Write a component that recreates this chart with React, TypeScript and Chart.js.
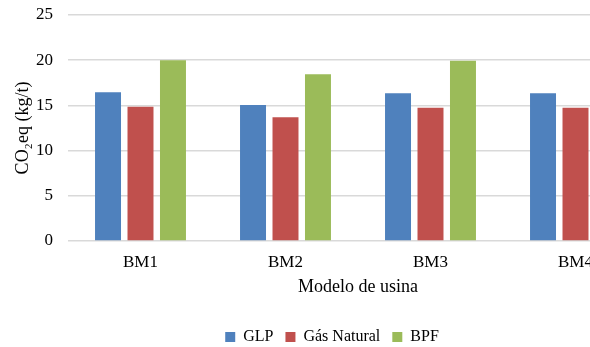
import React, { useEffect, useRef } from "react";
import { Chart, registerables } from "chart.js";

Chart.register(...registerables);

// Emission results per plant model (kg CO2eq per tonne)
const categories = ["BM1", "BM2", "BM3", "BM4"];
const glp = [16.45, 15.05, 16.35, 16.35];
const gasNatural = [14.85, 13.7, 14.75, 14.75];
const bpf: (number | null)[] = [20.0, 18.45, 19.95, null];
const yMin = 0;
const yMax = 25;
const yStep = 5;

const seriesNames = ["GLP", "Gás Natural", "BPF"];
const seriesColors = ["#4F81BD", "#C0504D", "#9BBB59"];

const serif = "'Liberation Serif', 'Times New Roman', serif";

export default function App() {
  const canvasRef = useRef<HTMLCanvasElement>(null);

  useEffect(() => {
    if (!canvasRef.current) return;
    const chart = new Chart(canvasRef.current, {
      type: "bar",
      data: {
        labels: categories,
        datasets: [glp, gasNatural, bpf].map((values, i) => ({
          label: seriesNames[i],
          data: values,
          backgroundColor: seriesColors[i],
          borderWidth: 0,
          categoryPercentage: 0.672,
          barPercentage: 0.8,
        })),
      },
      options: {
        animation: false,
        responsive: true,
        maintainAspectRatio: false,
        layout: { padding: { top: 15, right: 16, left: 16, bottom: 0 } },
        plugins: {
          tooltip: { enabled: false },
          legend: {
            position: "bottom",
            labels: {
              boxWidth: 10,
              boxHeight: 10,
              padding: 12,
              color: "#000",
              font: { family: serif, size: 16 },
            },
          },
        },
        scales: {
          x: {
            grid: { display: false, drawTicks: false },
            border: { display: false },
            ticks: {
              color: "#000",
              padding: 11,
              font: { family: serif, size: 17 },
            },
            title: {
              display: true,
              text: "Modelo de usina",
              color: "#000",
              font: { family: serif, size: 18 },
              padding: { top: -7, bottom: 19 },
            },
          },
          y: {
            min: yMin,
            max: yMax,
            ticks: {
              stepSize: yStep,
              color: "#000",
              padding: 15,
              font: { family: serif, size: 17 },
            },
            grid: { color: "#D9D9D9", lineWidth: 1.5, drawTicks: false },
            border: { display: false },
            title: {
              display: true,
              text: "CO₂eq (kg/t)",
              color: "#000",
              font: { family: serif, size: 18 },
              padding: { top: -4, bottom: 0 },
            },
            afterFit: (scale: any) => {
              scale.width = 52;
              scale.paddingTop = 0;
              scale.paddingBottom = 0;
            },
          },
        },
      },
    });
    return () => chart.destroy();
  }, []);

  return (
    <div
      style={{
        position: "fixed",
        left: 0,
        top: 0,
        width: 590,
        height: 347,
        overflow: "hidden",
        background: "#fff",
      }}
    >
      <div style={{ position: "relative", width: 664, height: 355 }}>
        <canvas ref={canvasRef} />
      </div>
    </div>
  );
}
